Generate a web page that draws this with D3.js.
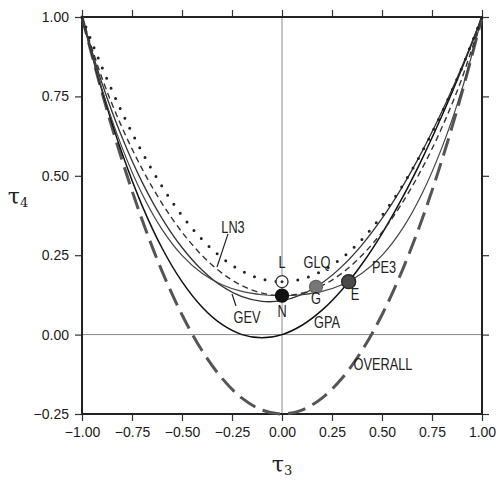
<!DOCTYPE html>
<html>
<head>
<meta charset="utf-8">
<script src="https://cdn.jsdelivr.net/npm/d3@7"></script>
<style>
  body { margin: 0; background: #fff; }
</style>
</head>
<body>
<div id="chart"></div>
<script>
// L-moment ratio diagram: tau3 (L-skewness) vs tau4 (L-kurtosis)
const tau3 = [-1, -0.9, -0.8, -0.7, -0.6, -0.5, -0.4, -0.3, -0.2, -0.1, 0,
  0.1, 0.2, 0.3, 0.4, 0.5, 0.6, 0.7, 0.8, 0.9, 1];

const glo = [1, 0.8417, 0.7, 0.575, 0.4667, 0.375, 0.3, 0.2417, 0.2, 0.175, 0.1667,
  0.175, 0.2, 0.2417, 0.3, 0.375, 0.4667, 0.575, 0.7, 0.8417, 1];
const ln3 = [1, 0.8077, 0.6526, 0.5226, 0.4133, 0.3226, 0.2495, 0.1935, 0.154, 0.1306, 0.1228,
  0.1306, 0.154, 0.1935, 0.2495, 0.3226, 0.4133, 0.5226, 0.6526, 0.8077, 1];
const pe3 = [1, 0.7729, 0.5894, 0.4435, 0.3314, 0.2493, 0.1929, 0.1569, 0.1359, 0.1255, 0.1224,
  0.1255, 0.1359, 0.1569, 0.1929, 0.2493, 0.3314, 0.4435, 0.5894, 0.7729, 1];
const gev = [0.997, 0.7916, 0.6214, 0.4808, 0.3661, 0.2743, 0.2034, 0.1521, 0.1193, 0.1045, 0.107,
  0.1265, 0.1626, 0.2148, 0.2827, 0.3659, 0.4638, 0.5762, 0.703, 0.8443, 1];
const gpa = [1, 0.7683, 0.5714, 0.407, 0.2727, 0.1667, 0.087, 0.0319, 0, -0.0102, 0,
  0.0294, 0.0769, 0.1415, 0.2222, 0.3182, 0.4286, 0.5526, 0.6897, 0.839, 1];
const overall = [1, 0.7625, 0.55, 0.3625, 0.2, 0.0625, -0.05, -0.1375, -0.2, -0.2375, -0.25,
  -0.2375, -0.2, -0.1375, -0.05, 0.0625, 0.2, 0.3625, 0.55, 0.7625, 1];

const pointNames = ['L', 'N', 'G', 'E'];
const pointT3 = [0, 0, 0.1699, 0.3333];
const pointT4 = [0.1667, 0.1226, 0.1504, 0.1667];

const labelText = ['LN3', 'GEV', 'GLQ', 'PE3', 'L', 'G', 'E', 'N', 'GPA', 'OVERALL'];
const labelT3 = [-0.245, -0.175, 0.175, 0.51, 0, 0.17, 0.365, 0, 0.225, 0.505];
const labelT4 = [0.339, 0.056, 0.229, 0.213, 0.229, 0.116, 0.128, 0.075, 0.04, -0.092];

// leader lines (LN3, GEV)
const leaders = [
  [[-0.27, 0.317], [-0.325, 0.213]],
  [[-0.25, 0.128], [-0.23, 0.09]]
];

const xTicks = [-1, -0.75, -0.5, -0.25, 0, 0.25, 0.5, 0.75, 1];
const yTicks = [-0.25, 0, 0.25, 0.5, 0.75, 1];

const W = 499, H = 481;
const svg = d3.select('#chart').append('svg')
  .attr('width', W)
  .attr('height', H);

const x = d3.scaleLinear().domain([-1, 1]).range([82, 482]);
const y = d3.scaleLinear().domain([-0.25, 1]).range([414, 17]);
const fmt = d3.format('.2f');

// zero lines
svg.append('line')
  .attr('x1', x(0)).attr('x2', x(0))
  .attr('y1', y(1)).attr('y2', y(-0.25))
  .attr('stroke', '#888').attr('stroke-width', 1);
svg.append('line')
  .attr('x1', x(-1)).attr('x2', x(1))
  .attr('y1', y(0)).attr('y2', y(0))
  .attr('stroke', '#888').attr('stroke-width', 1);

// axes
const tickFont = (g) => {
  g.select('.domain').remove();
  g.selectAll('.tick line').attr('stroke', '#333').attr('stroke-width', 1.2);
  g.selectAll('.tick text')
    .attr('font-family', '"Liberation Sans", Arial, sans-serif')
    .attr('font-size', 14)
    .attr('fill', '#1a1a1a');
};
svg.append('g')
  .attr('transform', `translate(0,${y(-0.25)})`)
  .call(d3.axisBottom(x).tickValues(xTicks).tickFormat(fmt).tickSize(7).tickPadding(6))
  .call(tickFont);
svg.append('g')
  .attr('transform', `translate(${x(-1)},0)`)
  .call(d3.axisLeft(y).tickValues(yTicks).tickFormat(fmt).tickSize(7).tickPadding(6))
  .call(tickFont);
svg.append('g')
  .attr('transform', `translate(0,${y(1)})`)
  .call(d3.axisTop(x).tickValues(xTicks).tickFormat('').tickSize(7))
  .call(tickFont);
svg.append('g')
  .attr('transform', `translate(${x(1)},0)`)
  .call(d3.axisRight(y).tickValues(yTicks).tickFormat('').tickSize(7))
  .call(tickFont);

// frame
svg.append('rect')
  .attr('x', x(-1)).attr('y', y(1))
  .attr('width', x(1) - x(-1)).attr('height', y(-0.25) - y(1))
  .attr('fill', 'none').attr('stroke', '#222').attr('stroke-width', 2);

// curves
const line = d3.line()
  .x((d, i) => x(tau3[i]))
  .y((d) => y(d))
  .curve(d3.curveCatmullRom.alpha(0.5));

const curves = [
  { v: overall, stroke: '#555', w: 3, dash: '18,8', cap: 'butt' },
  { v: gpa, stroke: '#111', w: 1.5, dash: null, cap: 'butt' },
  { v: gev, stroke: '#333', w: 1.3, dash: null, cap: 'butt' },
  { v: pe3, stroke: '#444', w: 1.2, dash: null, cap: 'butt' },
  { v: ln3, stroke: '#333', w: 1.4, dash: '6,4', cap: 'butt' },
  { v: glo, stroke: '#222', w: 3, dash: '0,11', cap: 'round' }
];
curves.forEach((c) => {
  svg.append('path')
    .attr('d', line(c.v))
    .attr('fill', 'none')
    .attr('stroke', c.stroke)
    .attr('stroke-width', c.w)
    .attr('stroke-dasharray', c.dash)
    .attr('stroke-linecap', c.cap);
});

// leaders
leaders.forEach((l) => {
  svg.append('line')
    .attr('x1', x(l[0][0])).attr('y1', y(l[0][1]))
    .attr('x2', x(l[1][0])).attr('y2', y(l[1][1]))
    .attr('stroke', '#222').attr('stroke-width', 1.2);
});

// special points
const pointStyle = {
  L: { fill: '#fff', stroke: '#333', r: 6 },
  N: { fill: '#111', stroke: '#111', r: 6.5 },
  G: { fill: '#777', stroke: '#666', r: 6.5 },
  E: { fill: '#4a4a4a', stroke: '#222', r: 7 }
};
pointNames.forEach((n, i) => {
  const s = pointStyle[n];
  svg.append('circle')
    .attr('cx', x(pointT3[i])).attr('cy', y(pointT4[i]))
    .attr('r', s.r)
    .attr('fill', s.fill).attr('stroke', s.stroke).attr('stroke-width', 1.3);
  if (n === 'L') {
    svg.append('circle')
      .attr('cx', x(pointT3[i])).attr('cy', y(pointT4[i]))
      .attr('r', 1.5).attr('fill', '#333');
  }
});

// labels, squeezed to a condensed width
labelText.forEach((t, i) => {
  const txt = svg.append('text')
    .attr('x', x(labelT3[i]))
    .attr('y', y(labelT4[i]))
    .attr('text-anchor', 'middle')
    .attr('dy', '0.36em')
    .attr('font-family', '"Liberation Sans", Arial, sans-serif')
    .attr('font-size', 17)
    .attr('fill', '#222')
    .text(t);
  const len = txt.node().getComputedTextLength();
  txt.attr('textLength', len * 0.75).attr('lengthAdjust', 'spacingAndGlyphs');
});

// axis titles
const tauTitle = (px, py, sub) => {
  const t = svg.append('text')
    .attr('x', px).attr('y', py)
    .attr('font-family', '"DejaVu Serif", "Liberation Serif", serif')
    .attr('font-size', 22)
    .attr('fill', '#222')
    .attr('text-anchor', 'middle');
  t.append('tspan').text('τ');
  t.append('tspan').attr('font-size', 13).attr('dy', 3).text(sub);
};
tauTitle(x(0), 472, '3');
tauTitle(18, 204, '4');
</script>
</body>
</html>
